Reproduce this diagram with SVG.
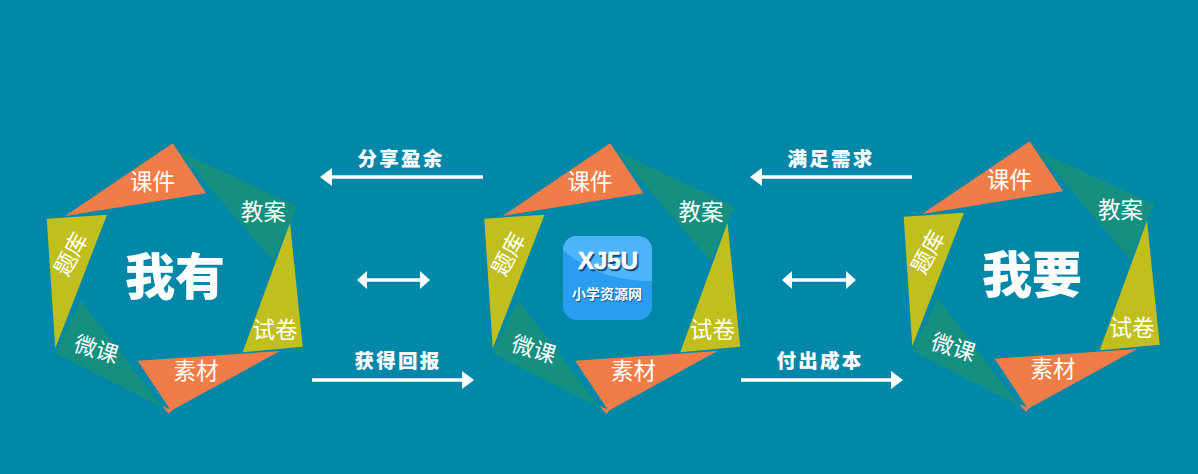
<svg xmlns="http://www.w3.org/2000/svg" width="1198" height="474" viewBox="0 0 1198 474">
<style>
.o{fill:#f07d48}.t{fill:#148f80}.y{fill:#c0bf1e}
text{fill:#fff;font-family:"Noto Sans CJK SC","Noto Sans",sans-serif;text-anchor:middle}
.p{font-size:22.500px}
.h{font-size:50px;font-weight:900}
.a{font-size:19.500px;font-weight:900;letter-spacing:2.300px}
.l{stroke:#fff;stroke-width:3.500;fill:none}
.k{fill:#fff}
</style>
<defs>
<g id="ring">
<polygon class="o" points="162,406 169,414 172,410"/>
<polygon class="o" points="172.7,143.3 206,193.3 65,216"/>
<polygon class="t" points="178,150.7 297.7,206.7 272.7,260.7"/>
<polygon class="y" points="290,222.7 302.7,346.7 242.7,352.3"/>
<polygon class="o" points="137.7,360.7 280,351 171,410.7"/>
<polygon class="t" points="80.7,300 163,408 55,353"/>
<polygon class="y" points="46.7,218.7 107,214.7 55.3,348.3"/>
<text class="p" x="152.500" y="190">课件</text>
<text class="p" x="263.500" y="220">教案</text>
<text class="p" x="275" y="338">试卷</text>
<text class="p" x="196" y="379">素材</text>
<text class="p" transform="translate(94,357) rotate(17)">微课</text>
<text class="p" transform="translate(78,258) rotate(-62)">题库</text>
</g>
</defs>
<rect width="1198" height="474" fill="#0188a8"/>
<g id="ring-have">
<use href="#ring"/>
<text class="h" x="175" y="295">我有</text>
</g>
<g id="ring-center" transform="translate(437.500,0)">
<use href="#ring"/>
</g>
<g id="logo-node">
<rect x="563" y="236" width="89" height="84" rx="14" fill="#2a9df0"/>
<path d="M563 250a14 14 0 0 1 14-14h61a14 14 0 0 1 14 14v31C620 281 590 273 563 250z" fill="#4fb5f8"/>
<text x="609.500" y="270.500" style="font-family:'Liberation Sans',sans-serif;font-size:24px;font-weight:700;fill:#0d4a78;stroke:#0d4a78;stroke-width:.6px">XJ5U</text>
<text x="608" y="269" style="font-family:'Liberation Sans',sans-serif;font-size:24px;font-weight:700;stroke:#fff;stroke-width:.6px">XJ5U</text>
<text x="608" y="300" style="font-size:14px;font-weight:700;fill:#0d5a90">小学资源网</text>
<text x="607" y="299" style="font-size:14px;font-weight:700">小学资源网</text>
</g>
<g id="ring-want" transform="translate(857,-2)">
<use href="#ring"/>
<text class="h" x="175" y="295">我要</text>
</g>
<g id="connectors">
<path class="l" d="M483 177H330"/><polygon class="k" points="320,177 332,168 332,186"/>
<path class="l" d="M312 380H464"/><polygon class="k" points="474,380 462,371 462,389"/>
<path class="l" d="M365 280H422"/><polygon class="k" points="357,280 367,271 367,289"/><polygon class="k" points="430,280 420,271 420,289"/>
<path class="l" d="M912 177H760"/><polygon class="k" points="750,177 762,168 762,186"/>
<path class="l" d="M741 380H893"/><polygon class="k" points="903,380 891,371 891,389"/>
<path class="l" d="M790 280H848"/><polygon class="k" points="782,280 792,271 792,289"/><polygon class="k" points="856,280 846,271 846,289"/>
<text class="a" x="401" y="166">分享盈余</text>
<text class="a" x="398" y="368">获得回报</text>
<text class="a" x="831" y="166">满足需求</text>
<text class="a" x="820" y="368">付出成本</text>
</g>
</svg>
